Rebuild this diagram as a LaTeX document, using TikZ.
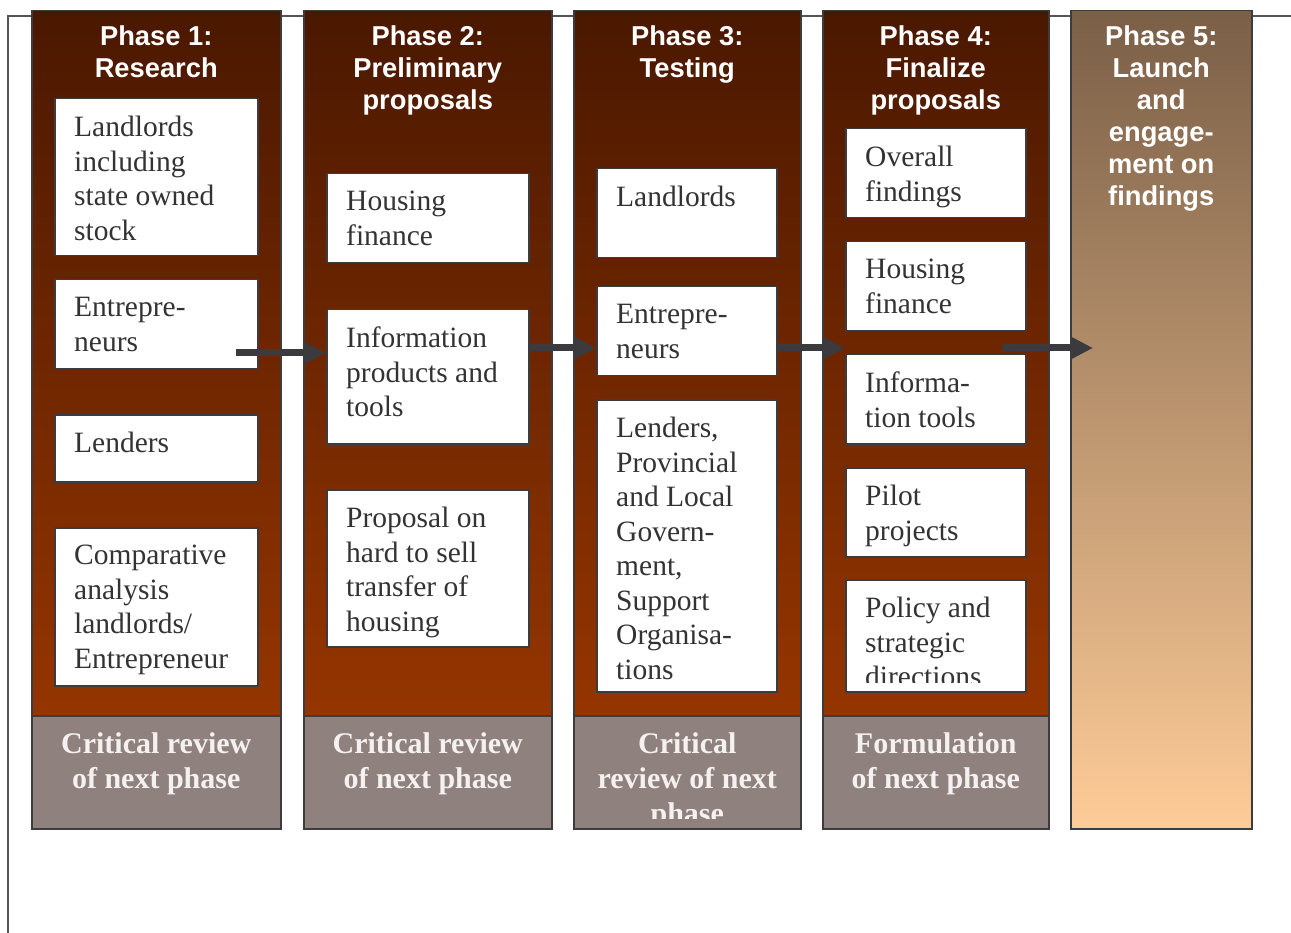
\documentclass[tikz,border=0pt]{standalone}
\usepackage{fontspec}
\setmainfont{Liberation Serif}
\newfontfamily\headfont{Liberation Sans}
\usetikzlibrary{arrows.meta, positioning}

\definecolor{brownTop}{HTML}{4A1800}
\definecolor{brownBot}{HTML}{953500}
\definecolor{launchTop}{HTML}{7A5F47}
\definecolor{launchBot}{HTML}{FECC98}
\definecolor{reviewFill}{HTML}{8F827E}
\definecolor{reviewInk}{HTML}{F4F1F0}
\definecolor{edgeGrey}{HTML}{3C3C3C}
\definecolor{inkGrey}{HTML}{333333}
\definecolor{arrowGrey}{HTML}{3A3A3F}
\definecolor{lineGrey}{HTML}{555555}

\begin{document}
\begin{tikzpicture}[x=1pt, y=-1pt,
    phasecol/.style={draw=edgeGrey, line width=1.5pt, top color=brownTop, bottom color=brownBot, anchor=north west, minimum height=705pt, inner sep=0pt},
    review/.style={draw=edgeGrey, line width=1.5pt, fill=reviewFill, anchor=north west, minimum height=113pt, inner sep=0pt},
    itembox/.style={draw=edgeGrey, line width=1.5pt, fill=white, anchor=north west, inner sep=0pt},
    itemtext/.style={anchor=north west, align=left, inner sep=0pt, text=inkGrey, font=\fontsize{29.5}{34.5}\selectfont},
    headtext/.style={anchor=north, align=center, inner sep=0pt, text=white, font=\headfont\bfseries\fontsize{27.3}{32}\selectfont},
    reviewtext/.style={anchor=north, align=center, inner sep=0pt, text=reviewInk, font=\bfseries\fontsize{30}{35}\selectfont},
    flow/.style={draw=arrowGrey, line width=7pt, -{Triangle[length=22pt, width=21pt]}},
    frameline/.style={draw=lineGrey, line width=1.5pt}]
    \useasboundingbox (0,0) rectangle (1291,933);

    % frame
    \coordinate (F0) at (1291,16);
    \coordinate (F1) at (8,933);
    \draw[frameline] (F0) -| (F1);

    % phase columns
    \foreach \i/\x/\w in {1/31/249, 2/303/248, 3/573/227, 4/822/226} {
        \node[phasecol, minimum width=\w pt] (P\i) at (\x,10) {};
        \node[review, minimum width=\w pt] (R\i) at (\x,715) {};
    }
    \node[phasecol, minimum width=181pt, minimum height=818pt, top color=launchTop, bottom color=launchBot] (P5) at (1070,10) {};

    % phase titles
    \foreach \i/\txt in {1/{Phase 1:\\Research}, 2/{Phase 2:\\Preliminary\\proposals}, 3/{Phase 3:\\Testing}, 4/{Phase 4:\\Finalize\\proposals}, 5/{Phase 5:\\Launch\\and\\engage-\\ment on\\findings}} {
        \node[headtext] (H\i) at ([yshift=-16pt]P\i.north) {\txt};
    }

    % Phase 1 items
    \foreach \j/\y/\h/\txt in {1/98/157/{Landlords\\including\\state owned\\stock}, 2/279/89/{Entrepre-\\neurs}, 3/414/67/{Lenders}, 4/527/158/{Comparative\\analysis\\landlords/\\Entrepreneur}} {
        \node[itembox, minimum width=203pt, minimum height=\h pt] (B1\j) at (54,\y) {};
        \node[itemtext] (T1\j) at ([shift={(20,18)}]B1\j.north west) {\txt};
    }
    % Phase 2 items
    \foreach \j/\y/\h/\txt in {1/173/89/{Housing\\finance}, 2/309/134/{Information\\products and\\tools}, 3/489/157/{Proposal on\\hard to sell\\transfer of\\housing}} {
        \node[itembox, minimum width=202pt, minimum height=\h pt] (B2\j) at (326,\y) {};
        \node[itemtext] (T2\j) at ([shift={(20,18)}]B2\j.north west) {\txt};
    }
    % Phase 3 items
    \foreach \j/\y/\h/\txt in {1/168/89/{Landlords}, 2/286/89/{Entrepre-\\neurs}, 3/399/292/{Lenders,\\Provincial\\and Local\\Govern-\\ment,\\Support\\Organisa-\\tions}} {
        \node[itembox, minimum width=180pt, minimum height=\h pt] (B3\j) at (596,\y) {};
        \node[itemtext] (T3\j) at ([shift={(20,18)}]B3\j.north west) {\txt};
    }
    % Phase 4 items
    \foreach \j/\y/\txt in {1/128/{Overall\\findings}, 2/241/{Housing\\finance}, 3/354/{Informa-\\tion tools}, 4/467/{Pilot\\projects}} {
        \node[itembox, minimum width=180pt, minimum height=89pt] (B4\j) at (845,\y) {};
        \node[itemtext] (T4\j) at ([shift={(20,18)}]B4\j.north west) {\txt};
    }
    \node[itembox, minimum width=180pt, minimum height=112pt] (B45) at (845,579) {};
    \begin{scope}
        \clip (B45.north west) rectangle ([yshift=10pt]B45.south east);
        \node[itemtext] (T45) at ([shift={(20,18)}]B45.north west) {Policy and\\strategic\\directions};
    \end{scope}

    % review texts
    \foreach \i/\txt in {1/{Critical review\\of next phase}, 2/{Critical review\\of next phase}, 4/{Formulation\\of next phase}} {
        \node[reviewtext] (C\i) at ([yshift=-17pt]R\i.north) {\txt};
    }
    \begin{scope}
        \clip (R3.north west) rectangle ([yshift=11pt]R3.south east);
        \node[reviewtext] (C3) at ([yshift=-17pt]R3.north) {Critical\\review of next\\phase};
    \end{scope}

    % arrows
    \coordinate (a1) at (236,353);
    \coordinate (a2) at (528,348);
    \coordinate (a3) at (777,348);
    \coordinate (a4) at (1003,348);
    \draw[flow] (a1) -- (a1 -| B22.west);
    \draw[flow] (a2) -- (a2 -| B32.west);
    \draw[flow] (a3) -- (a3 -| B43.west);
    \draw[flow] (a4) -- ([xshift=23pt]a4 -| P5.west);
\end{tikzpicture}
\end{document}
